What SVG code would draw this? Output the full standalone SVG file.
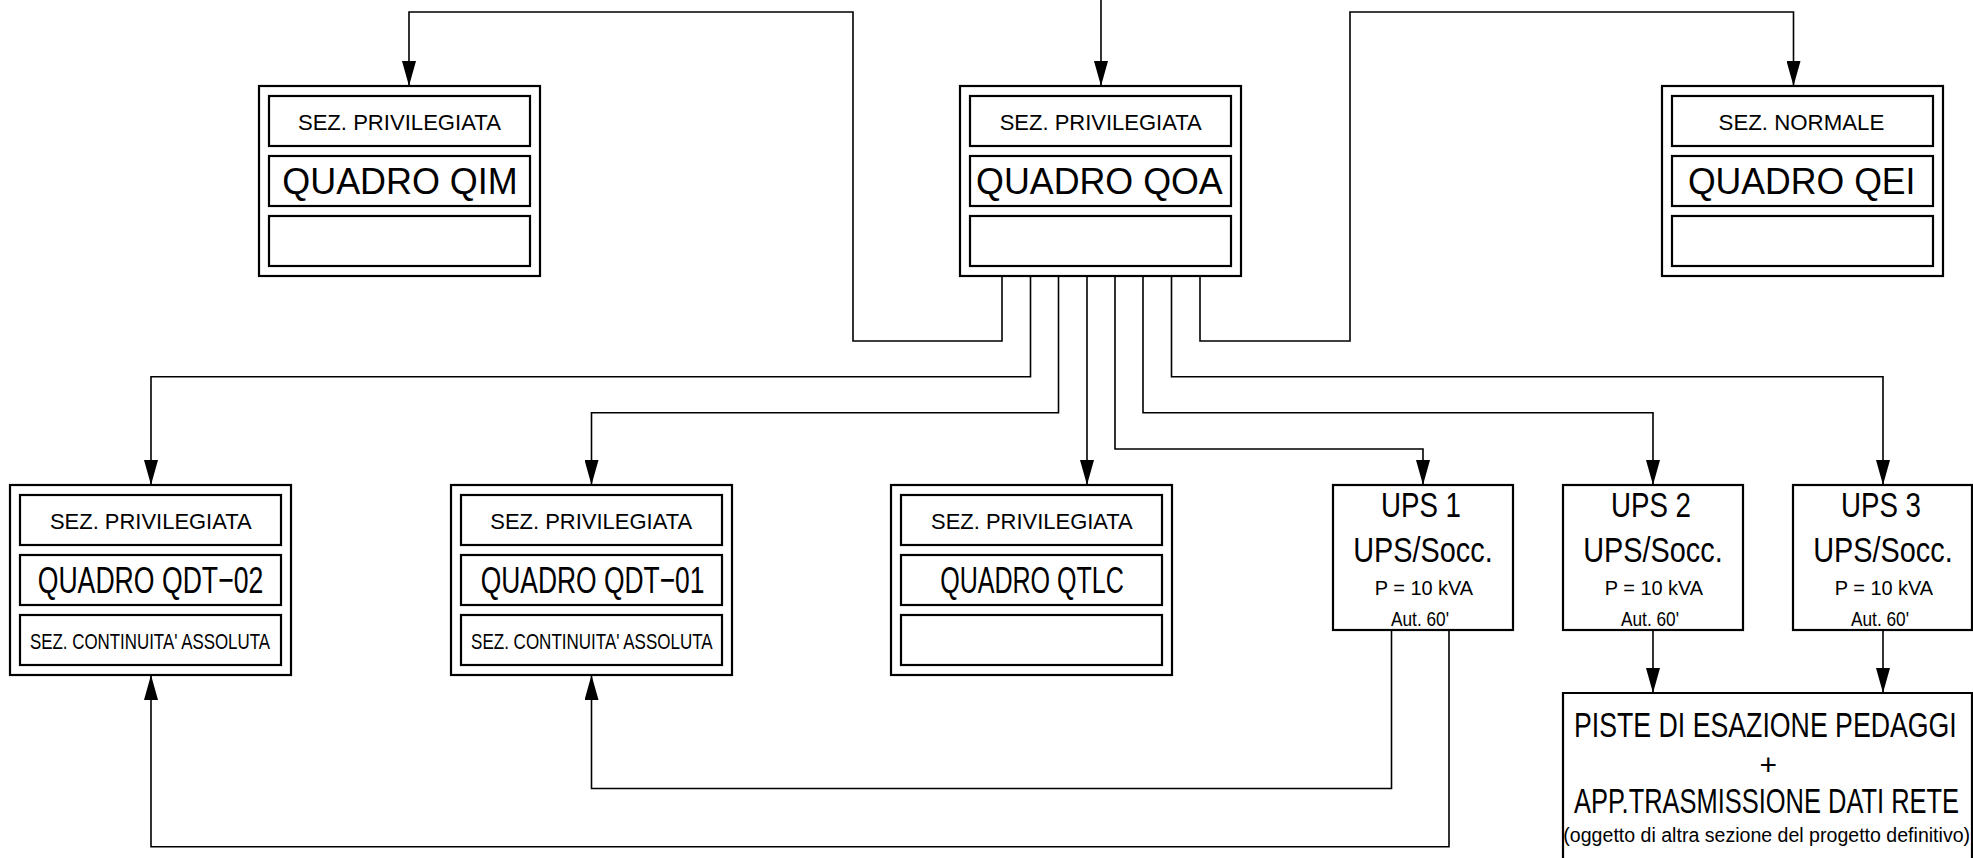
<svg xmlns="http://www.w3.org/2000/svg" width="1973" height="858" viewBox="0 0 1973 858">
<defs>
<style>
.box{fill:none;stroke:#000;stroke-width:2.2}
.con{fill:none;stroke:#000;stroke-width:1.6}
text{font-family:"Liberation Sans",Arial,sans-serif;fill:#000;text-anchor:middle}
.s{font-size:22.3px}
.q{font-size:37.7px}
.u{font-size:35px}
.p{font-size:21px}
</style>
<marker id="arr" viewBox="0 -7 25 14" refX="25" refY="0" markerWidth="25" markerHeight="14" markerUnits="userSpaceOnUse" orient="auto">
<path d="M0,-7 L25,0 L0,7 Z" fill="#000"/>
</marker>
</defs>
<rect x="0" y="0" width="1973" height="858" fill="#fff"/>

<g id="connectors">
<path class="con" d="M1101,0 V86" marker-end="url(#arr)"/>
<path class="con" d="M1002,276 V341 H853 V12 H409 V86" marker-end="url(#arr)"/>
<path class="con" d="M1200,276 V341 H1350 V12 H1793.5 V86" marker-end="url(#arr)"/>
<path class="con" d="M1030.5,276 V376.7 H151 V485" marker-end="url(#arr)"/>
<path class="con" d="M1058.5,276 V412.7 H591.5 V485" marker-end="url(#arr)"/>
<path class="con" d="M1087,276 V485" marker-end="url(#arr)"/>
<path class="con" d="M1115,276 V449 H1423 V485" marker-end="url(#arr)"/>
<path class="con" d="M1143,276 V412.7 H1653 V485" marker-end="url(#arr)"/>
<path class="con" d="M1171.5,276 V376.7 H1883 V485" marker-end="url(#arr)"/>
<path class="con" d="M1653,630 V693" marker-end="url(#arr)"/>
<path class="con" d="M1883,630 V693" marker-end="url(#arr)"/>
<path class="con" d="M1391.5,630 V788.5 H591.5 V675" marker-end="url(#arr)"/>
<path class="con" d="M1449,630 V846.7 H151 V675" marker-end="url(#arr)"/>
</g>

<g id="QIM">
<rect class="box" x="259" y="86" width="281" height="190"/>
<rect class="box" x="269" y="96" width="261" height="50"/>
<rect class="box" x="269" y="156" width="261" height="50"/>
<rect class="box" x="269" y="216" width="261" height="50"/>
<text class="s" x="399.4" y="129.5" textLength="203" lengthAdjust="spacingAndGlyphs">SEZ. PRIVILEGIATA</text>
<text class="q" x="400" y="194.3" textLength="235.4" lengthAdjust="spacingAndGlyphs">QUADRO QIM</text>
</g>

<g id="QOA">
<rect class="box" x="960" y="86" width="281" height="190"/>
<rect class="box" x="970" y="96" width="261" height="50"/>
<rect class="box" x="970" y="156" width="261" height="50"/>
<rect class="box" x="970" y="216" width="261" height="50"/>
<text class="s" x="1100.7" y="129.5" textLength="202" lengthAdjust="spacingAndGlyphs">SEZ. PRIVILEGIATA</text>
<text class="q" x="1099.4" y="194.3" textLength="246.6" lengthAdjust="spacingAndGlyphs">QUADRO QOA</text>
</g>

<g id="QEI">
<rect class="box" x="1662" y="86" width="281" height="190"/>
<rect class="box" x="1672" y="96" width="261" height="50"/>
<rect class="box" x="1672" y="156" width="261" height="50"/>
<rect class="box" x="1672" y="216" width="261" height="50"/>
<text class="s" x="1801.4" y="129.5" textLength="165.7" lengthAdjust="spacingAndGlyphs">SEZ. NORMALE</text>
<text class="q" x="1801.7" y="194.3" textLength="227.6" lengthAdjust="spacingAndGlyphs">QUADRO QEI</text>
</g>

<g id="QDT-02">
<rect class="box" x="10" y="485" width="281" height="190"/>
<rect class="box" x="20" y="495" width="261" height="50"/>
<rect class="box" x="20" y="555" width="261" height="50"/>
<rect class="box" x="20" y="615" width="261" height="50"/>
<text class="s" x="150.8" y="529.3" textLength="201.7" lengthAdjust="spacingAndGlyphs">SEZ. PRIVILEGIATA</text>
<text class="q" x="150.5" y="592.7" textLength="225.6" lengthAdjust="spacingAndGlyphs">QUADRO QDT−02</text>
<text class="s" x="150" y="649.3" textLength="240" lengthAdjust="spacingAndGlyphs">SEZ. CONTINUITA' ASSOLUTA</text>
</g>

<g id="QDT-01">
<rect class="box" x="451" y="485" width="281" height="190"/>
<rect class="box" x="461" y="495" width="261" height="50"/>
<rect class="box" x="461" y="555" width="261" height="50"/>
<rect class="box" x="461" y="615" width="261" height="50"/>
<text class="s" x="591.2" y="529.3" textLength="201.8" lengthAdjust="spacingAndGlyphs">SEZ. PRIVILEGIATA</text>
<text class="q" x="592.6" y="592.7" textLength="223.8" lengthAdjust="spacingAndGlyphs">QUADRO QDT−01</text>
<text class="s" x="591.9" y="649.3" textLength="241.6" lengthAdjust="spacingAndGlyphs">SEZ. CONTINUITA' ASSOLUTA</text>
</g>

<g id="QTLC">
<rect class="box" x="891" y="485" width="281" height="190"/>
<rect class="box" x="901" y="495" width="261" height="50"/>
<rect class="box" x="901" y="555" width="261" height="50"/>
<rect class="box" x="901" y="615" width="261" height="50"/>
<text class="s" x="1031.9" y="529.3" textLength="201.7" lengthAdjust="spacingAndGlyphs">SEZ. PRIVILEGIATA</text>
<text class="q" x="1032" y="592.7" textLength="183.7" lengthAdjust="spacingAndGlyphs">QUADRO QTLC</text>
</g>

<g id="UPS1">
<rect class="box" x="1333" y="485" width="180" height="145"/>
<text class="u" x="1421" y="516.7" textLength="80" lengthAdjust="spacingAndGlyphs">UPS 1</text>
<text class="u" x="1423" y="561.7" textLength="139.4" lengthAdjust="spacingAndGlyphs">UPS/Socc.</text>
<text class="p" x="1424" y="595" textLength="98.3" lengthAdjust="spacingAndGlyphs">P = 10 kVA</text>
<text class="p" x="1420" y="626" textLength="58" lengthAdjust="spacingAndGlyphs">Aut. 60'</text>
</g>

<g id="UPS2">
<rect class="box" x="1563" y="485" width="180" height="145"/>
<text class="u" x="1651" y="516.7" textLength="80" lengthAdjust="spacingAndGlyphs">UPS 2</text>
<text class="u" x="1653" y="561.7" textLength="139.4" lengthAdjust="spacingAndGlyphs">UPS/Socc.</text>
<text class="p" x="1654" y="595" textLength="98.3" lengthAdjust="spacingAndGlyphs">P = 10 kVA</text>
<text class="p" x="1650" y="626" textLength="58" lengthAdjust="spacingAndGlyphs">Aut. 60'</text>
</g>

<g id="UPS3">
<rect class="box" x="1793" y="485" width="179" height="145"/>
<text class="u" x="1881" y="516.7" textLength="80" lengthAdjust="spacingAndGlyphs">UPS 3</text>
<text class="u" transform="scale(0.8,1)" x="2353.75" y="561.7" textLength="174.25" lengthAdjust="spacingAndGlyphs">UPS/Socc.</text>
<text class="p" x="1884" y="595" textLength="98.3" lengthAdjust="spacingAndGlyphs">P = 10 kVA</text>
<text class="p" x="1880" y="626" textLength="58" lengthAdjust="spacingAndGlyphs">Aut. 60'</text>
</g>

<g id="PISTE">
<path class="box" d="M1563,858 V693 H1972 V858"/>
<text class="u" transform="scale(0.8,1)" x="2206.75" y="736.7" textLength="478.4" lengthAdjust="spacingAndGlyphs">PISTE DI ESAZIONE PEDAGGI</text>
<text x="1768.3" y="775" style="font-size:30px">+</text>
<text class="u" transform="scale(0.65,1)" x="2717.7" y="813.3" textLength="592.3" lengthAdjust="spacingAndGlyphs">APP.TRASMISSIONE DATI RETE</text>
<text class="p" transform="scale(0.8,1)" x="2208.4" y="842" textLength="508.4" lengthAdjust="spacingAndGlyphs">(oggetto di altra sezione del progetto definitivo)</text>
</g>
</svg>
